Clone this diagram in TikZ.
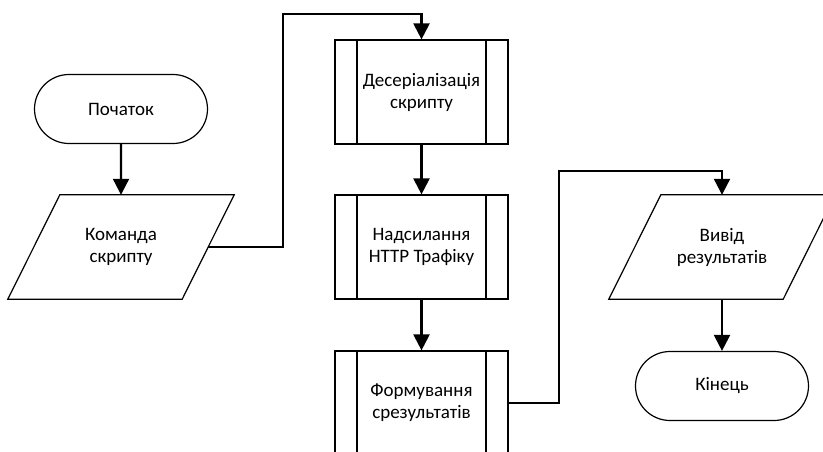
\documentclass[tikz,border=0pt]{standalone}
\usepackage{fontspec}
\setmainfont{Carlito}
\usetikzlibrary{shapes.misc,arrows.meta}
\begin{document}
\begin{tikzpicture}[x=1pt,y=-1pt,
  every node/.style={font=\fontsize{19}{22}\selectfont, align=center, inner sep=0pt},
  shapeline/.style={draw=black, line width=1.2pt},
  terminal/.style={shapeline, rounded rectangle, minimum width=173pt, minimum height=69pt},
  iobox/.style={rectangle, minimum width=174pt, minimum height=104pt},
  procbox/.style={shapeline, rectangle, minimum width=173pt, minimum height=104pt,
     path picture={
       \draw[line width=1.2pt] ([xshift=22pt]path picture bounding box.north west) -- ([xshift=22pt]path picture bounding box.south west);
       \draw[line width=1.2pt] ([xshift=-22pt]path picture bounding box.north east) -- ([xshift=-22pt]path picture bounding box.south east);
     }},
  conn/.style={line width=2.2pt, -{Triangle[length=16pt,width=16pt]}}
]
\useasboundingbox (0,0) rectangle (823,452);
\fill[white] (0,0) rectangle (823,452);

\node[terminal] (start) at (121,109) {Початок};
\node[iobox] (cmd) at (121,247) {Команда\\скрипту};
\node[procbox] (box1) at (421.5,92) {Десеріалізація\\скрипту};
\node[procbox] (box2) at (421.5,247) {Надсилання\\HTTP Трафіку};
\node[procbox] (box3) at (421.5,403) {Формування\\срезультатів};
\node[iobox] (out) at (722,247) {Вивід\\результатів};
\node[terminal] (fin) at (722,386) {Кінець};

\foreach \p in {cmd,out}{
  \draw[shapeline, line join=miter] ([xshift=26pt]\p.north west) -- ([xshift=26pt]\p.north east)
     -- ([xshift=-26pt]\p.south east) -- ([xshift=-26pt]\p.south west) -- cycle;
}

\coordinate (r1) at (283,14);
\coordinate (r2) at (559,171);

\draw[conn] (start) -- (cmd);
\draw[conn] (cmd.east) -| (r1) -| (box1.north);
\draw[conn] (box1) -- (box2);
\draw[conn] (box2) -- (box3);
\draw[conn] (box3.east) -| (r2) -| (out.north);
\draw[conn] (out) -- (fin);
\end{tikzpicture}
\end{document}
